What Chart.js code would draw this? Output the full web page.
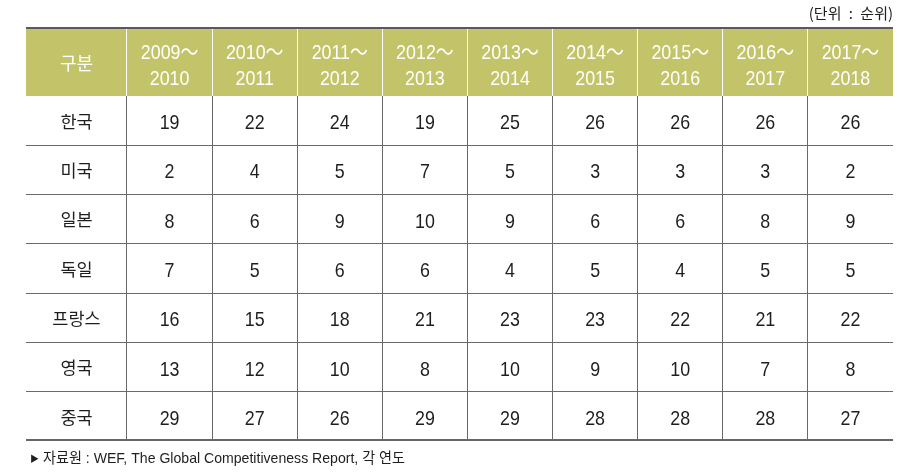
<!DOCTYPE html>
<html><head><meta charset="utf-8">
<script src="https://cdn.jsdelivr.net/npm/chart.js@4/dist/chart.umd.min.js"></script>
<style>html,body{margin:0;padding:0;background:#fff}</style>
</head><body>
<canvas id="c" width="902" height="474"></canvas>
<script>
// ---- data ----
const unitLabel = '(단위 : 순위)';
const cornerLabel = '구분';
const sourceMark = '▶';
const sourceLabel = '자료원 : WEF, The Global Competitiveness Report, 각 연도';
const periodLabels = [
  ['2009～','2010'], ['2010～','2011'], ['2011～','2012'],
  ['2012～','2013'], ['2013～','2014'], ['2014～','2015'],
  ['2015～','2016'], ['2016～','2017'], ['2017～','2018']
];
const countries = ['한국','미국','일본','독일','프랑스','영국','중국'];
const rankKorea   = [19,22,24,19,25,26,26,26,26];
const rankUSA     = [2,4,5,7,5,3,3,3,2];
const rankJapan   = [8,6,9,10,9,6,6,8,9];
const rankGermany = [7,5,6,6,4,5,4,5,5];
const rankFrance  = [16,15,18,21,23,23,22,21,22];
const rankUK      = [13,12,10,8,10,9,10,7,8];
const rankChina   = [29,27,26,29,29,28,28,28,27];
const rankRows = [rankKorea, rankUSA, rankJapan, rankGermany, rankFrance, rankUK, rankChina];

// ---- styles ----
const HEADER_BG = '#c3c46a';
const LINE = '#6a6a6a';
const BORDER = '#5a5a5a';
const TEXT = '#1e1e1e';
const NUM_FONT = '"Liberation Sans", Arial, sans-serif';
const KR_FONT = '"Noto Sans CJK KR", "Noto Sans", sans-serif';
const CONDENSE = 0.85;

const xKeys = periodLabels.map(p => p.join(''));

function drawCondensed(ctx, text, x, y, sx) {
  ctx.save();
  ctx.translate(x, y);
  ctx.scale(sx, 1);
  ctx.fillText(text, 0, 0);
  ctx.restore();
}

const tablePlugin = {
  id: 'table',
  beforeDraw(chart) {
    const {ctx, scales: {x, y}} = chart;
    ctx.save();
    ctx.fillStyle = HEADER_BG;
    ctx.fillRect(y.left, x.top, x.right - y.left, x.bottom - x.top);
    ctx.restore();
  },
  afterDraw(chart) {
    const {ctx, scales: {x, y}, chartArea} = chart;
    const left = y.left, right = x.right;
    ctx.save();
    // borders
    ctx.fillStyle = BORDER;
    ctx.fillRect(left, x.top - 2, right - left, 2);
    ctx.fillStyle = '#666';
    ctx.fillRect(left, chartArea.bottom - 2, right - left, 2);

    // header labels
    ctx.fillStyle = '#ffffff';
    ctx.textAlign = 'center';
    ctx.textBaseline = 'alphabetic';
    ctx.font = '21px ' + NUM_FONT + ', ' + KR_FONT;
    periodLabels.forEach((p, i) => {
      const cx = x.getPixelForTick(i);
      drawCondensed(ctx, p[0], cx, x.top + 29.5, CONDENSE);
      drawCondensed(ctx, p[1], cx, x.top + 55.5, CONDENSE);
    });
    ctx.font = '18px ' + KR_FONT;
    ctx.textBaseline = 'middle';
    ctx.fillText(cornerLabel, (y.left + y.right) / 2, (x.top + x.bottom) / 2 + 0.5);

    // row labels
    ctx.fillStyle = TEXT;
    ctx.font = '17.5px ' + KR_FONT;
    countries.forEach((c, j) => {
      ctx.fillText(c, (y.left + y.right) / 2, y.getPixelForTick(j) + 0.5);
    });

    // cell values
    ctx.font = '21px ' + NUM_FONT;
    ctx.textBaseline = 'alphabetic';
    chart.data.datasets.forEach((ds, j) => {
      const meta = chart.getDatasetMeta(j);
      meta.data.forEach((el, i) => {
        drawCondensed(ctx, String(ds.data[i].rank), el.x, el.y + 8.5, CONDENSE);
      });
    });

    // unit label
    ctx.font = '15px ' + KR_FONT;
    ctx.textAlign = 'right';
    ctx.textBaseline = 'middle';
    if ('wordSpacing' in ctx) ctx.wordSpacing = '4px';
    ctx.fillText(unitLabel, right, 13.5);
    if ('wordSpacing' in ctx) ctx.wordSpacing = '0px';

    // source
    ctx.textAlign = 'left';
    ctx.font = '9px ' + KR_FONT;
    ctx.fillText(sourceMark, left + 4, 458.5);
    ctx.font = '15px ' + NUM_FONT + ', ' + KR_FONT;
    ctx.fillText(sourceLabel, left + 17, 458.5, 362);
    ctx.restore();
  }
};

new Chart(document.getElementById('c'), {
  type: 'line',
  data: {
    labels: xKeys,
    datasets: countries.map((c, j) => ({
      label: c,
      data: rankRows[j].map((v, i) => ({ x: xKeys[i], y: c, rank: v })),
      showLine: false,
      pointRadius: 0,
      pointHoverRadius: 0
    }))
  },
  options: {
    responsive: false,
    animation: false,
    devicePixelRatio: 1,
    events: [],
    layout: { padding: { left: 26, right: 9, top: 29, bottom: 33 } },
    plugins: { legend: { display: false }, tooltip: { enabled: false }, title: { display: false } },
    scales: {
      x: {
        type: 'category',
        position: 'top',
        offset: true,
        border: { display: false },
        grid: {
          offset: true,
          drawTicks: true,
          tickLength: 67,
          lineWidth: 1,
          color: c => c.type === 'tick' ? LINE : 'transparent',
          tickColor: c => c.type === 'tick' ? '#ffffff' : 'transparent'
        },
        ticks: { display: false },
        afterFit: s => { s.height = 67; }
      },
      y: {
        type: 'category',
        labels: countries,
        offset: true,
        border: { display: false },
        grid: {
          offset: true,
          drawTicks: true,
          tickLength: 101,
          lineWidth: 1,
          color: c => (c.type === 'tick' && c.index > 0) ? LINE : 'transparent',
          tickColor: c => (c.type === 'tick' && c.index > 0) ? LINE : 'transparent'
        },
        ticks: { display: false },
        afterFit: s => { s.width = 101; }
      }
    }
  },
  plugins: [tablePlugin]
});
</script>
</body></html>
